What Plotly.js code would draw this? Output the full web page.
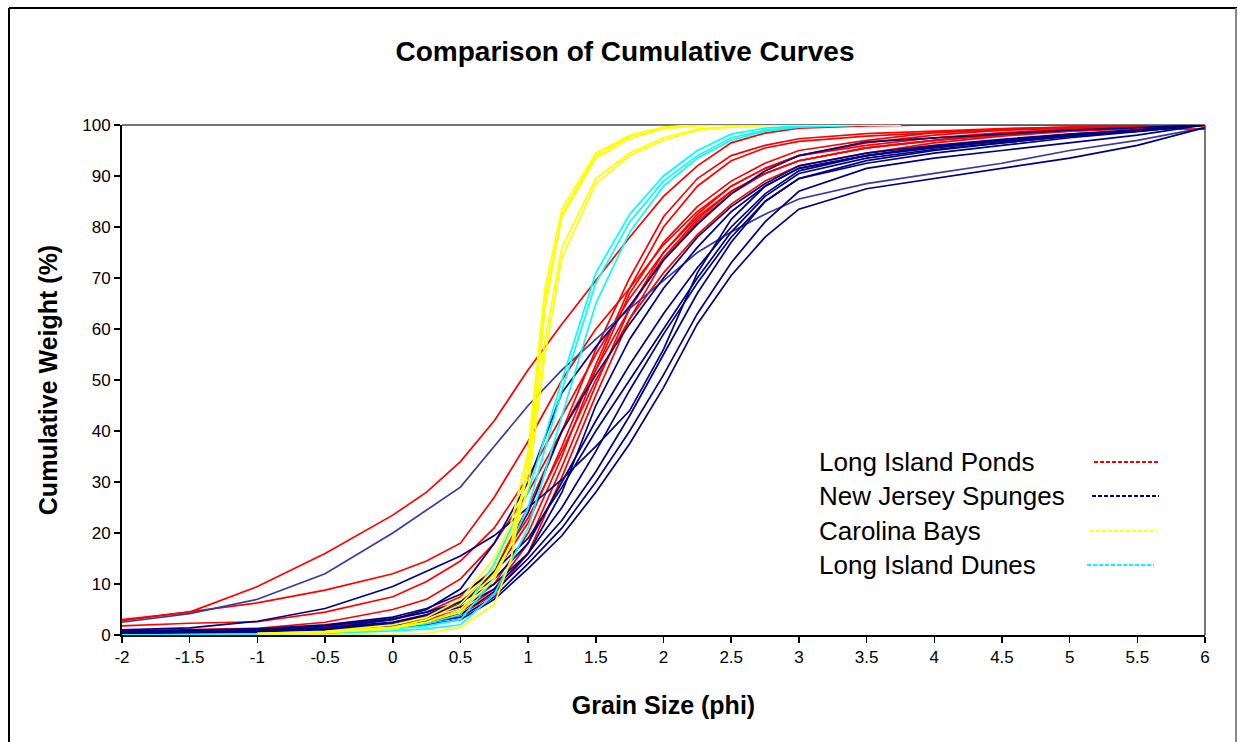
<!DOCTYPE html>
<html>
<head>
<meta charset="utf-8">
<script src="https://cdn.plot.ly/plotly-3.0.1.min.js"></script>
<style>html,body{margin:0;padding:0;background:#fff;}#chart{width:1238px;height:742px;}</style>
</head>
<body>
<div id="chart"></div>
<script>
// Grain size grid (phi) for Long Island Ponds and New Jersey Spunges
const phi = [-2, -1.5, -1, -0.5, 0, 0.25, 0.5, 0.75, 1, 1.25, 1.5, 1.75, 2, 2.25, 2.5, 2.75, 3, 3.5, 4, 4.5, 5, 5.5, 6];
// Grain size grid for Carolina Bays
const phiBays = [-1, -0.5, 0, 0.25, 0.5, 0.75, 0.875, 1, 1.125, 1.25, 1.5, 1.75, 2, 2.25, 2.5, 2.75, 3, 3.5, 3.75];
// Grain size grid for Long Island Dunes
const phiDunes = [-2, -1.5, -1, -0.5, 0, 0.25, 0.5, 0.75, 1, 1.25, 1.5, 1.75, 2, 2.25, 2.5, 2.75, 3, 3.5, 3.75];

// Axis tick values and labels
const xTickVals = [-2, -1.5, -1, -0.5, 0, 0.5, 1, 1.5, 2, 2.5, 3, 3.5, 4, 4.5, 5, 5.5, 6];
const xTickLabels = ["-2", "-1.5", "-1", "-0.5", "0", "0.5", "1", "1.5", "2", "2.5", "3", "3.5", "4", "4.5", "5", "5.5", "6"];
const yTickVals = [0, 10, 20, 30, 40, 50, 60, 70, 80, 90, 100];
const yTickLabels = ["0", "10", "20", "30", "40", "50", "60", "70", "80", "90", "100"];

// Long Island Ponds (cumulative weight %)
const pond1 = [3, 4.5, 9.5, 16, 23.5, 28, 34, 42, 52, 61, 69.5, 78, 86, 92, 96.5, 98.4, 99.4, 99.8, 100, 100, 100, 100, 100];
const pond2 = [2.8, 4.5, 6.3, 8.8, 12, 14.5, 18, 27, 38, 50, 60, 68, 76.5, 83, 88, 91.5, 94, 96.5, 98, 99, 99.5, 99.8, 100];
const pond3 = [1.8, 2.3, 2.6, 4.5, 7.5, 10.5, 14.5, 21, 31, 43, 55, 66, 75, 82, 87, 90.5, 93, 95.5, 97, 98.2, 99, 99.5, 100];
const pond4 = [0.8, 1, 1.3, 2.5, 5, 7, 11, 18, 28, 40, 52, 64, 74, 81.5, 87, 90.5, 93, 95.5, 97, 98, 98.8, 99.3, 99.2];
const pond5 = [0.5, 0.6, 0.8, 1.2, 2, 3, 5, 10, 20, 35, 52, 67, 77, 84, 89, 92.5, 95, 97, 98.5, 99.2, 99.6, 99.8, 100];
const pond6 = [0.3, 0.4, 0.6, 1, 1.8, 2.7, 4.5, 9, 18, 33, 49, 64, 75, 82.5, 88, 91.5, 94, 96, 97.5, 98.5, 99.2, 99.6, 100];
const pond7 = [0.2, 0.3, 0.5, 0.8, 1.5, 2.3, 4, 8, 16, 31, 47, 62, 73.5, 81, 86.5, 90.5, 93, 95.5, 97, 98.2, 99, 99.5, 100];
const pond8 = [0.3, 0.4, 0.6, 1, 2, 3.5, 6, 13, 25, 40, 56, 70, 82, 89.5, 94, 96, 97.3, 98.3, 98.8, 99.3, 99.6, 99.8, 100];
const pond9 = [0.4, 0.5, 0.7, 1.1, 2.2, 3.6, 6.5, 12, 22, 37, 53, 68, 80, 88, 93, 95.5, 96.8, 97.8, 98.5, 99, 99.4, 99.7, 100];
const pond10 = [0.6, 0.8, 1, 1.6, 3, 4.5, 7.5, 13, 23, 36, 50, 62, 71, 78.5, 84.5, 89, 92, 94.5, 96.5, 97.8, 98.8, 99.4, 99.8];

// New Jersey Spunges (cumulative weight %)
const spunge1 = [2.5, 4.2, 7, 12, 20, 24.5, 29, 37, 45, 52, 58, 64, 69.5, 75, 79, 82.5, 85.5, 88.5, 90.5, 92.5, 95, 97, 99.5];
const spunge2 = [0.3, 0.4, 0.5, 0.8, 1.3, 2, 3, 7, 13, 19.5, 28, 37.5, 48.5, 61, 70.5, 78, 83.5, 87.5, 89.5, 91.5, 93.5, 96, 99.5];
const spunge3 = [0.4, 0.5, 0.7, 1, 1.6, 2.4, 3.5, 7.5, 14, 21, 30, 40, 51, 63, 73, 81, 87, 91.5, 93.5, 95, 96.5, 98, 100];
const spunge4 = [0.5, 0.6, 0.8, 1.2, 1.8, 2.7, 4, 8.5, 15, 22.5, 32, 43, 55, 67, 77, 85, 89.5, 93, 95, 96.5, 97.8, 99, 100];
const spunge5 = [1, 1.4, 2.7, 5.2, 9.5, 12.5, 15.5, 19.5, 25, 30.5, 37, 44, 56, 71, 81.5, 88, 91.5, 94, 95.5, 96.8, 97.8, 98.8, 100];
const spunge6 = [0.5, 0.6, 0.8, 1.3, 3, 5, 9, 18, 30, 47.5, 56.5, 64.5, 73.5, 80.5, 86.5, 91, 94, 96.7, 97.5, 98.3, 99, 99.5, 100];
const spunge7 = [0.4, 0.5, 0.7, 1, 2.2, 3.5, 6, 12.5, 24, 40, 51, 61, 70, 78, 84, 88.5, 92, 94.5, 96, 97.2, 98.2, 99, 100];
const spunge8 = [0.6, 0.7, 0.9, 1.4, 2.5, 4, 6.5, 11, 18, 30, 42, 53, 63, 72, 80, 86.5, 91, 94, 95.8, 97, 98, 99, 100];
const spunge9 = [0.7, 0.9, 1.2, 2, 3.5, 5.2, 8, 12.5, 19, 29, 40, 50, 60, 70, 79, 86, 90.5, 93.5, 95.2, 96.5, 97.8, 98.8, 100];
const spunge10 = [0.6, 0.8, 1.1, 1.8, 3.2, 4.5, 6.5, 10, 16, 25, 36, 48, 59, 69, 78, 85, 89.5, 92.5, 94.5, 96, 97.5, 98.7, 100];
const spunge11 = [0.5, 0.6, 0.8, 1.2, 2.5, 3.7, 5.5, 9, 16, 28, 45, 58, 68, 76, 83, 88, 91.5, 94, 95.8, 97, 98.2, 99, 100];

// Carolina Bays (cumulative weight %)
const bay1 = [0, 0, 0.1, 0.3, 1.5, 6, 15, 35, 66, 82, 93.5, 97.3, 99.3, 99.8, 100, 100, 100, 100, 100];
const bay2 = [0.2, 0.5, 1.5, 2.5, 4.5, 11, 18, 32, 64, 82.5, 94, 97.8, 99.5, 100, 100, 100, 100, 100, 100];
const bay3 = [0.3, 0.7, 2, 3.5, 7, 15, 22, 36, 68, 83.5, 94.5, 98, 99.6, 100, 100, 100, 100, 100, 100];
const bay4 = [0.3, 0.6, 1.5, 3, 6, 13, 20, 32, 58, 76, 89.5, 94.5, 97.5, 99.2, 99.7, 100, 100, 100, 100];
const bay5 = [0.2, 0.5, 1.2, 2.5, 5, 12, 18, 29, 55, 74, 88.5, 94, 97, 99, 99.6, 99.9, 100, 100, 100];

// Long Island Dunes (cumulative weight %)
const dune1 = [0, 0.1, 0.2, 0.5, 1.2, 1.8, 3, 11, 25, 48, 69, 81, 89, 94, 97.5, 99, 99.7, 100, 100];
const dune2 = [0, 0.1, 0.2, 0.6, 1.5, 2.2, 4, 14, 28, 50, 71, 82.5, 90, 95, 98.2, 99.4, 99.8, 100, 100];
const dune3 = [0, 0.05, 0.1, 0.3, 0.8, 1.2, 2, 8, 21, 43, 65, 79, 88, 93.5, 97, 98.8, 99.6, 100, 100];

const seriesNames = ["Long Island Ponds", "New Jersey Spunges", "Carolina Bays", "Long Island Dunes"];
const seriesColors = ["#FF0000", "#000080", "#FFFF00", "#00FFFF"];
const spungeLight = "#3A3A9A";

const groups = [
  {x: phi, curves: [pond1, pond2, pond3, pond4, pond5, pond6, pond7, pond8, pond9, pond10], color: seriesColors[0]},
  {x: phi, curves: [spunge1, spunge2, spunge3, spunge4, spunge5, spunge6, spunge7, spunge8, spunge9, spunge10, spunge11], color: seriesColors[1]},
  {x: phiDunes, curves: [dune1, dune2, dune3], color: seriesColors[3]},
  {x: phiBays, curves: [bay1, bay2, bay3, bay4, bay5], color: seriesColors[2]}
];

const traces = [];
groups.forEach(g => {
  g.curves.forEach(c => {
    traces.push({
      x: g.x, y: c, type: 'scatter', mode: 'lines',
      line: {color: (c === spunge1 ? spungeLight : g.color), width: 1.7},
      showlegend: false, hoverinfo: 'skip'
    });
  });
});

const FONT = 'Arial, "Liberation Sans", sans-serif';
const W = 1083, H = 510, L = 122, T = 125;
const px2x = p => (p - L) / W;
const px2y = p => (T + H - p) / H;

const legendY = [462, 496, 531, 565];
const legendX0 = [1094, 1092, 1090, 1087];
const legendX1 = [1160, 1159, 1157, 1154];

const annotations = seriesNames.map((n, i) => ({
  text: n, xref: 'paper', yref: 'paper', x: px2x(817), y: px2y(legendY[i]),
  xanchor: 'left', yanchor: 'middle', showarrow: false,
  font: {family: FONT, size: 26, color: '#000'}
}));

const shapes = seriesColors.map((c, i) => ({
  type: 'line', xref: 'paper', yref: 'paper',
  x0: px2x(legendX0[i]), x1: px2x(legendX1[i]), y0: px2y(legendY[i]), y1: px2y(legendY[i]),
  line: {color: c, width: 2, dash: '4px,2px'}
}));
// outer chart border
shapes.push({type: 'line', xref: 'paper', yref: 'paper', x0: px2x(9), x1: px2x(9), y0: px2y(8), y1: px2y(760), line: {color: '#000', width: 2}});
shapes.push({type: 'line', xref: 'paper', yref: 'paper', x0: px2x(9), x1: px2x(1237), y0: px2y(8), y1: px2y(8), line: {color: '#000', width: 2}});
shapes.push({type: 'line', xref: 'paper', yref: 'paper', x0: px2x(1236), x1: px2x(1236), y0: px2y(8), y1: px2y(760), line: {color: '#888', width: 2}});
// plot area frame (top / right)
shapes.push({type: 'line', xref: 'paper', yref: 'paper', x0: 0, x1: 1, y0: 1, y1: 1, line: {color: '#777', width: 2}, layer: 'below'});
shapes.push({type: 'line', xref: 'paper', yref: 'paper', x0: 1, x1: 1, y0: 0, y1: 1, line: {color: '#777', width: 2}, layer: 'below'});

const layout = {
  width: 1238, height: 742,
  margin: {l: L, r: 1238 - L - W, t: T, b: 742 - T - H},
  paper_bgcolor: '#fff', plot_bgcolor: '#fff',
  font: {family: FONT, color: '#000'},
  title: {text: '<b>Comparison of Cumulative Curves</b>', x: 625 / 1238, xanchor: 'center', xref: 'container',
          y: 1 - 51 / 742, yanchor: 'middle', yref: 'container', font: {family: FONT, size: 28, color: '#000'}},
  xaxis: {
    range: [-2, 6], tickmode: 'array', tickvals: xTickVals, ticktext: xTickLabels,
    showgrid: false, zeroline: false,
    showline: true, linecolor: '#000', linewidth: 2,
    ticks: 'outside', ticklen: 6, tickwidth: 1.5, tickcolor: '#000',
    tickfont: {family: FONT, size: 17, color: '#000'},
    title: {text: '<b>Grain Size (phi)</b>', font: {family: FONT, size: 25, color: '#000'}, standoff: 30}
  },
  yaxis: {
    range: [0, 100], tickmode: 'array', tickvals: yTickVals, ticktext: yTickLabels,
    showgrid: false, zeroline: false,
    showline: true, linecolor: '#000', linewidth: 2,
    ticks: 'outside', ticklen: 6, tickwidth: 1.5, tickcolor: '#000',
    tickfont: {family: FONT, size: 17, color: '#000'},
    title: {text: '<b>Cumulative Weight (%)</b>', font: {family: FONT, size: 25, color: '#000'}, standoff: 17}
  },
  annotations: annotations,
  shapes: shapes,
  showlegend: false
};

Plotly.newPlot('chart', traces, layout, {displayModeBar: false, staticPlot: true});
</script>
</body>
</html>
